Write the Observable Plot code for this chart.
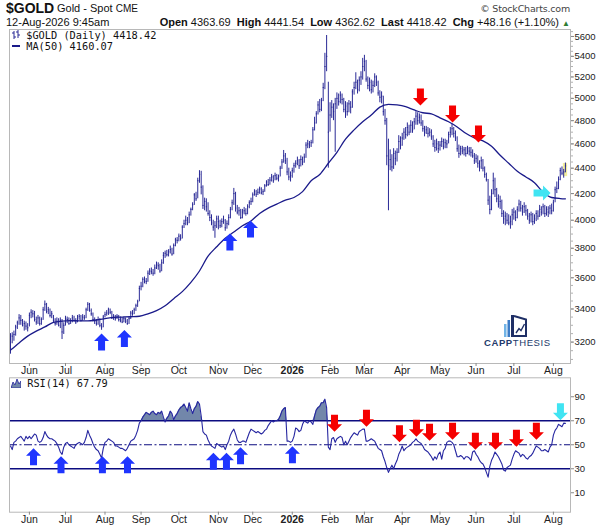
<!DOCTYPE html>
<html><head><meta charset="utf-8">
<script src="https://cdn.jsdelivr.net/npm/d3@7"></script>
<script src="https://cdn.jsdelivr.net/npm/@observablehq/plot@0.6"></script>
<style>
body{margin:0;background:#fff;}
#wrap{position:relative;width:604px;height:525px;overflow:hidden;font-family:"Liberation Sans",Arial,sans-serif;color:#111;}
.abs{position:absolute;white-space:pre;}
#main,#rsi{position:absolute;left:0;}
#main{top:0;} #rsi{top:376px;}
.mono{font-family:"DejaVu Sans Mono",monospace;font-size:10.3px;line-height:11px;}
</style></head><body><div id="wrap"><div id="main"></div><div id="rsi"></div></div>
<script>
// ---------- data (daily OHLC, trading days May 16 2025 .. Aug 12 2026) ----------
const close = [
3200,3235,3245,3290,3315,3345,3330,3300,3310,3295,3285,
3360,3380,3370,3335,3320,3345,3310,3335,3395,3430,3385,3395,3360,3370,3330,3310,3325,3300,3330,3260,3300,
3340,3335,3310,3325,3345,3330,3320,3345,3355,3330,3350,3345,3395,3430,3390,3370,3335,3325,3310,3335,3300,3290,3350,
3365,3375,3395,3380,3345,3350,3340,3355,3335,3330,3320,3340,3325,3310,3340,3375,3370,3395,3420,3445,3530,
3545,3590,3580,3575,3630,3645,3640,3630,3665,3690,3680,3645,3700,3750,3765,3755,3775,3790,3760,3820,3860,3855,
3885,3870,3950,3975,4000,3980,4040,4080,4115,4190,4160,4300,4350,4250,4110,4140,4100,4050,4020,3980,3950,3960,4010,
3990,3960,3990,4000,3945,3975,4020,4080,4130,4200,4090,4060,4070,4020,4060,4070,4050,4100,4130,4140,
4190,4215,4195,4210,4235,4205,4215,4260,4290,4270,4305,4330,4300,4340,4320,4330,4400,4450,4500,4460,4370,4330,4340,
4380,4420,4440,4460,4420,4470,4450,4490,4590,4600,4590,4610,4720,4780,4860,4940,4900,4980,5100,5300,5400,4700,
4850,4920,4880,4950,5000,4970,5030,4990,4900,4930,4880,4950,4920,5060,5100,5150,5080,5170,5200,5300,
5350,5180,5120,5150,5080,5120,5200,5150,5050,5010,5020,4880,4800,4500,4420,4470,4410,4520,4480,4530,4620,4590,
4650,4700,4680,4740,4700,4760,4720,4790,4840,4800,4830,4780,4730,4700,4720,4690,4700,4660,4600,4570,4600,4560,
4590,4620,4580,4610,4600,4680,4700,4730,4690,4650,4560,4520,4560,4540,4550,4520,4560,4540,4530,4500,4460,
4480,4440,4410,4460,4400,4350,4310,4150,4080,4200,4300,4230,4160,4120,4140,4050,4010,4030,4000,3980,3990,4040,
4060,4020,4080,4120,4090,4060,4100,4070,4030,4000,4040,3990,4010,4050,4030,4080,4060,4100,4050,4080,4060,4090,4070,
4130,4230,4240,4310,4380,4360,4370,4418.42];
const high = [
3250,3255,3265,3300,3325,3365,3360,3335,3325,3320,3310,
3375,3395,3390,3385,3350,3360,3350,3345,3410,3450,3435,3410,3400,3385,3360,3340,3345,3340,3345,3335,3315,
3355,3350,3345,3340,3360,3355,3340,3360,3365,3360,3365,3360,3405,3440,3435,3400,3375,3345,3335,3350,3340,3310,3360,
3380,3390,3405,3400,3385,3365,3360,3365,3360,3350,3345,3350,3345,3335,3350,3385,3390,3405,3430,3455,3545,
3570,3600,3605,3595,3645,3660,3665,3655,3685,3705,3700,3690,3720,3770,3780,3785,3790,3815,3800,3830,3870,3875,
3900,3895,3960,4000,4030,4020,4060,4090,4130,4200,4210,4320,4380,4375,4260,4165,4160,4130,4070,4040,4000,3990,4030,
4030,4000,4010,4030,4005,3995,4040,4095,4150,4240,4210,4110,4095,4080,4080,4095,4085,4115,4145,4165,
4205,4230,4225,4235,4250,4245,4230,4270,4300,4310,4325,4350,4340,4360,4350,4345,4415,4470,4545,4520,4480,4400,4370,
4400,4440,4460,4490,4470,4500,4490,4515,4610,4630,4620,4630,4740,4830,4880,4970,4990,5000,5140,5430,5610,5150,
4960,4980,4950,5000,5050,5040,5060,5040,5000,4970,4960,4980,4970,5080,5150,5240,5170,5200,5250,5380,
5410,5360,5200,5190,5170,5160,5230,5210,5160,5070,5060,5020,4900,4820,4640,4550,4510,4560,4540,4560,4670,4660,
4690,4730,4740,4780,4760,4800,4790,4820,4880,4870,4860,4850,4800,4750,4750,4740,4730,4720,4670,4630,4640,4620,
4620,4650,4640,4640,4630,4700,4740,4770,4740,4710,4660,4590,4580,4580,4570,4570,4580,4570,4570,4550,4520,
4510,4500,4460,4490,4470,4410,4360,4310,4180,4230,4360,4320,4240,4190,4180,4150,4070,4060,4050,4040,4030,4080,
4090,4070,4100,4150,4140,4110,4130,4110,4080,4050,4060,4050,4040,4070,4070,4110,4100,4120,4110,4100,4100,4110,4120,
4150,4250,4290,4330,4400,4410,4390,4441.54];
const low = [
3130,3190,3205,3235,3275,3300,3300,3290,3265,3270,3260,
3290,3340,3345,3320,3300,3305,3295,3300,3330,3385,3370,3365,3345,3340,3315,3295,3300,3290,3280,3215,3245,
3295,3310,3300,3305,3315,3320,3305,3315,3330,3320,3325,3330,3340,3385,3380,3355,3320,3305,3295,3300,3285,3270,3285,
3345,3355,3360,3365,3335,3330,3325,3335,3320,3315,3310,3315,3310,3300,3305,3335,3355,3365,3385,3410,3445,
3515,3535,3560,3555,3570,3615,3620,3610,3620,3655,3650,3630,3640,3690,3730,3740,3740,3760,3745,3755,3810,3830,
3845,3850,3865,3940,3960,3960,3975,4030,4070,4110,4140,4160,4280,4190,4080,4070,4060,4030,3990,3960,3920,3870,3940,
3930,3940,3945,3970,3920,3935,3960,4010,4070,4110,4060,4040,4030,4005,4010,4040,4030,4040,4085,4110,
4130,4180,4170,4185,4195,4190,4185,4210,4250,4255,4265,4290,4280,4300,4300,4290,4330,4390,4440,4430,4340,4300,4290,
4320,4360,4400,4420,4390,4410,4420,4440,4480,4560,4560,4570,4600,4710,4770,4850,4870,4880,4970,5080,5250,4400,
4700,4820,4800,4530,4900,4930,4950,4940,4870,4820,4840,4870,4860,4910,5030,5080,5040,5060,5120,5170,
5250,5150,5080,5060,5040,5050,5100,5110,5020,4960,4950,4840,4760,4420,4070,4380,4370,4390,4420,4450,4520,4550,
4580,4630,4640,4660,4670,4690,4690,4720,4760,4760,4770,4750,4700,4660,4680,4650,4660,4630,4570,4530,4540,4520,
4540,4570,4550,4560,4560,4600,4650,4670,4650,4620,4530,4480,4500,4510,4500,4490,4510,4500,4490,4480,4430,
4440,4400,4370,4390,4370,4320,4290,4110,4040,4070,4190,4170,4130,4090,4080,4020,3970,3960,3970,3960,3935,3960,
4000,3990,4010,4060,4060,4030,4050,4030,4000,3970,3980,3960,3970,3990,4000,4020,4030,4040,4020,4030,4020,4040,4040,
4060,4130,4200,4230,4300,4340,4320,4362.62];
const rsi14 = [
49,46,52,53,55,56,57,55,53,57,55,
57,55,57,59,58,53,52,53,56,61,58,56,55,55,54,53,51,48,44,42,48,
51,52,50,49,48,47,50,51,52,51,50,52,56,62,58,55,51,48,46,45,42,39,47,
52,53,55,54,53,52,49,49,48,47,47,46,45,47,50,53,54,55,58,62,68,
70,73,75,77,76,75,77,78,76,75,77,76,78,73,69,72,74,78,76,71,74,76,
79,81,82,84,81,78,85,80,76,80,82,86,84,74,61,59,58,54,51,49,48,47,51,
50,49,48,49,46,50,53,58,61,63,59,54,52,52,53,53,52,56,60,63,
62,61,60,61,60,59,60,62,63,66,68,70,69,70,70,71,74,78,80,81,53,53,52,
53,57,64,63,61,62,67,70,69,68,70,69,67,74,79,81,82,85,85,88,81,48,
46,55,56,52,55,56,57,56,50,53,50,53,56,58,60,59,58,61,62,63,
63,53,53,54,55,54,53,50,47,46,45,40,36,31,27,30,33,30,34,37,42,45,
49,45,47,48,49,50,52,53,55,53,52,51,49,46,45,44,42,40,37,40,38,42,
44,38,45,47,52,53,53,52,50,45,40,40,41,40,38,40,40,39,37,44,45,
42,40,37,35,34,31,27,23,32,37,40,44,42,40,37,34,29,28,31,32,33,38,
42,45,44,43,40,42,41,39,38,40,41,43,46,49,48,47,45,45,46,45,44,48,50,
58,62,64,67,66,65,68,67.79];
// 50-day moving average, read every 5th trading day
const maIndex = [0,5,10,15,20,25,30,35,40,45,50,55,60,65,70,75,80,85,90,95,100,105,110,115,120,125,130,135,140,145,150,155,160,165,170,175,180,185,190,195,200,205,210,215,220,225,230,235,240,245,250,255,260,265,270,275,280,285,290,295,300,305,310,315,320,323];
const maValue = [3153,3195,3235,3265,3290,3318,3325,3328,3327,3327,3332,3340,3348,3350,3352,3355,3370,3390,3420,3465,3510,3570,3645,3745,3810,3870,3915,3960,3995,4050,4090,4120,4150,4170,4215,4300,4350,4440,4530,4640,4720,4790,4850,4920,4945,4940,4925,4895,4870,4860,4825,4790,4745,4690,4650,4625,4580,4505,4440,4375,4330,4285,4210,4170,4162,4160.07];
// tick labels
const monthLabels = ["Jun","Jul","Aug","Sep","Oct","Nov","Dec","2026","Feb","Mar","Apr","May","Jun","Jul","Aug"];
const priceTicks = [3200,3400,3600,3800,4000,4200,4400,4600,4800,5000,5200,5400,5600];
const rsiTicks = [10,30,50,70,90];
// signal arrows (trading-day index, level)
const upArrowsPrice = [[53,3200],[66.3,3221],[127.7,3843],[139.7,3936]];
const downArrowsPrice = [[238.6,5013],[257.3,4859],[272.4,4684]];
const rightArrowsPrice = [[309.4,4205]];
const upArrowsRsi = [[13.4,40],[29.4,33.3],[53.5,33.3],[68.1,33.3],[118.1,36.3],[125.7,36.3],[133.9,40.8],[164.1,41.7]];
const downArrowsRsi = [[188.6,67.9],[207.2,72.1],[226.4,59.2],[236.3,63.8],[243.9,60.4],[257.3,61.3],[270.6,52.9],[282.3,52.9],[294.5,55.4],[306.1,61.3]];
const cyanArrowsRsi = [[320.1,77.5]];
const header = {open:"4363.69", high:"4441.54", low:"4362.62", last:"4418.42", chg:"+48.16 (+1.10%)", ma:"4160.07", rsi:"67.79"};

// ---------- build ----------
const days = d3.utcDay.range(new Date(Date.UTC(2025,4,16)), new Date(Date.UTC(2026,7,13)))
  .filter(d => d.getUTCDay() !== 0 && d.getUTCDay() !== 6);
const bars = close.map((c,i) => ({i, c, h: high[i], l: low[i]}));
const rsiData = rsi14.map((v,i) => ({i, v}));
const ma = maIndex.map((i,k) => ({i, v: maValue[k]}));
const monthStarts = [];
days.forEach((d,i) => { if (i > 0 && d.getUTCMonth() !== days[i-1].getUTCMonth()) monthStarts.push(i); });
const labelOf = i => monthLabels[monthStarts.indexOf(i)];
const normalTicks = monthStarts.filter(i => labelOf(i) !== "2026");
const yearTicks = monthStarts.filter(i => labelOf(i) === "2026");
const pts = a => a.map(([i,v]) => ({i, v}));

const arrowUp = {draw(c){c.moveTo(0,-8.5);c.lineTo(7.5,-1);c.lineTo(3.5,-1);c.lineTo(3.5,8.5);c.lineTo(-3.5,8.5);c.lineTo(-3.5,-1);c.lineTo(-7.5,-1);c.closePath();}};
const arrowDown = {draw(c){c.moveTo(0,8.5);c.lineTo(7.5,1);c.lineTo(3.5,1);c.lineTo(3.5,-8.5);c.lineTo(-3.5,-8.5);c.lineTo(-3.5,1);c.lineTo(-7.5,1);c.closePath();}};
const arrowRight = {draw(c){c.moveTo(8.5,0);c.lineTo(1,7.5);c.lineTo(1,3.5);c.lineTo(-8.5,3.5);c.lineTo(-8.5,-3.5);c.lineTo(1,-3.5);c.lineTo(1,-7.5);c.closePath();}};

const BAR = "#2a2a96", NAVY = "#0c0c80", BLUE = "#1f35ff", RED = "#f50000", CYAN = "#40e4f2";
const xDomain = [-0.58, 325.96];
const FONT = "'Liberation Sans', Arial, sans-serif";
const style = {background: "transparent", fontFamily: FONT, color: "#222", overflow: "visible"};

const mainPlot = Plot.plot({
  width: 604, height: 376,
  marginLeft: 9, marginRight: 34, marginTop: 29, marginBottom: 13,
  style,
  x: {type: "linear", domain: xDomain, label: null},
  y: {type: "log", domain: [3077, 5672], label: null},
  marks: [
    Plot.rect([bars[bars.length-1]], {x1: d => d.i - 1.2, x2: d => d.i + 1.3, y1: d => d.l - 30, y2: d => d.h - 3, fill: "#f3ee9e"}),
    Plot.ruleX(bars, {x: "i", y1: "l", y2: "h", stroke: BAR, strokeWidth: 1}),
    Plot.ruleY(bars, {y: "c", x1: "i", x2: d => d.i + 0.7, stroke: BAR, strokeWidth: 1}),
    Plot.line(ma, {x: "i", y: "v", stroke: "#1a1a8a", strokeWidth: 1.3, curve: "monotone-x"}),
    Plot.dot(pts(upArrowsPrice), {x: "i", y: "v", symbol: arrowUp, fill: BLUE, stroke: "none"}),
    Plot.dot(pts(downArrowsPrice), {x: "i", y: "v", symbol: arrowDown, fill: RED, stroke: "none"}),
    Plot.dot(pts(rightArrowsPrice), {x: "i", y: "v", symbol: arrowRight, fill: CYAN, stroke: "none"}),
    Plot.frame({stroke: "#b8b8b8"}),
    Plot.axisY({anchor: "right", label: null, ticks: d3.range(3100, 5651, 50), tickSize: 2, tickFormat: () => "", stroke: "#b0b0b0"}),
    Plot.axisY({anchor: "right", label: null, ticks: priceTicks, tickSize: 3, tickPadding: 1, tickFormat: d => String(d), fontSize: 9.5, stroke: "#888"}),
    Plot.axisX({anchor: "bottom", label: null, ticks: normalTicks, tickSize: 3, tickPadding: 0.5, tickFormat: labelOf, fontSize: 10.5, stroke: "#888"}),
    Plot.axisX({anchor: "bottom", label: null, ticks: yearTicks, tickSize: 3, tickPadding: 0.5, tickFormat: labelOf, fontSize: 10.5, fontWeight: "bold", stroke: "#888"})
  ]
});
document.getElementById("main").appendChild(mainPlot);

const rsiPlot = Plot.plot({
  width: 604, height: 149,
  marginLeft: 9, marginRight: 34, marginTop: 1.3, marginBottom: 13.3,
  style,
  x: {type: "linear", domain: xDomain, label: null},
  y: {domain: [-6.2, 105.8], label: null},
  marks: [
    Plot.areaY(rsiData, {x: "i", y1: 70, y2: d => Math.max(70, d.v), fill: "#7287aa"}),
    Plot.ruleY([70, 30], {stroke: NAVY, strokeWidth: 1.4}),
    Plot.ruleY([50], {stroke: NAVY, strokeWidth: 1.2, strokeDasharray: "8,2.5,2,2.5"}),
    Plot.line(rsiData, {x: "i", y: "v", stroke: "#2626a0", strokeWidth: 1.1}),
    Plot.dot(pts(upArrowsRsi), {x: "i", y: "v", symbol: arrowUp, fill: BLUE, stroke: "none"}),
    Plot.dot(pts(downArrowsRsi), {x: "i", y: "v", symbol: arrowDown, fill: RED, stroke: "none"}),
    Plot.dot(pts(cyanArrowsRsi), {x: "i", y: "v", symbol: arrowDown, fill: CYAN, stroke: "none"}),
    Plot.frame({stroke: "#b8b8b8"}),
    Plot.axisY({anchor: "right", label: null, ticks: rsiTicks, tickSize: 3, tickPadding: 1, fontSize: 9.5, stroke: "#888"}),
    Plot.axisX({anchor: "bottom", label: null, ticks: normalTicks, tickSize: 3, tickPadding: 0, tickFormat: labelOf, fontSize: 10.5, stroke: "#888"}),
    Plot.axisX({anchor: "bottom", label: null, ticks: yearTicks, tickSize: 3, tickPadding: 0, tickFormat: labelOf, fontSize: 10.5, fontWeight: "bold", stroke: "#888"})
  ]
});
document.getElementById("rsi").appendChild(rsiPlot);

// ---------- text overlays ----------
const wrap = document.getElementById("wrap");
function addDiv(html, css){ const d = document.createElement("div"); d.className = "abs"; d.style.cssText = css; d.innerHTML = html; wrap.appendChild(d); return d; }
addDiv("$GOLD", "left:6px;top:0px;font-size:14px;font-weight:bold;");
addDiv("Gold - Spot <span style='font-size:10px'>CME</span>", "left:57px;top:2px;font-size:11px;");
addDiv("© StockCharts.com", "right:34px;top:3px;font-size:9.5px;color:#444;font-family:'DejaVu Sans',sans-serif;letter-spacing:-0.2px;");
addDiv("12-Aug-2026 9:45am", "left:6px;top:16px;font-size:11px;");
addDiv(`<b>Open</b> ${header.open}  <b>High</b> ${header.high}  <b>Low</b> ${header.low}  <b>Last</b> ${header.last}  <b>Chg</b> ${header.chg} <span style="color:#2e7d32;font-size:8px">▲</span>`,
  "right:34px;top:16px;font-size:11px;");
addDiv(`<svg width="8" height="10" style="vertical-align:-1px"><path d="M2 1V9M0 3H2M2 7H4M6 0V8M4 2H6M6 5H8" stroke="${BAR}" stroke-width="1" fill="none"/></svg> $GOLD (Daily) ${header.last}<br><span style="display:inline-block;width:8px;height:2px;background:#1a1a8a;vertical-align:3px"></span> MA(50) ${header.ma}`,
  "left:12px;top:30px;", ).classList.add("mono");
addDiv(`<svg width="10" height="10" style="vertical-align:-1px"><path d="M0 10L2 4L4 7L6 1L8 6L10 3L10 10Z" fill="#7287aa" stroke="#2626a0" stroke-width="0.8"/></svg> RSI(14) ${header.rsi}`,
  "left:11px;top:378px;").classList.add("mono");
addDiv(`<svg width="24" height="23" style="display:block;margin:0 auto"><rect x="0" y="10" width="2.5" height="13" fill="#72b4e6"/><rect x="3.5" y="6" width="2.5" height="17" fill="#3c7cc6"/><rect x="7" y="1" width="3" height="22" fill="#1f2f66"/><path d="M10 2L22 5.5V22H10" stroke="#1f2f66" stroke-width="2" fill="none"/><path d="M12 19L15 14.5L17 16.5L20.5 10" stroke="#1f2f66" stroke-width="1.4" fill="none"/></svg><div style="font-size:9.5px;line-height:11px;letter-spacing:0.6px;color:#233a6b;text-align:center"><b>CAPP</b>THESIS</div>`,
  "left:484px;top:314px;width:64px;");
</script></body></html>
